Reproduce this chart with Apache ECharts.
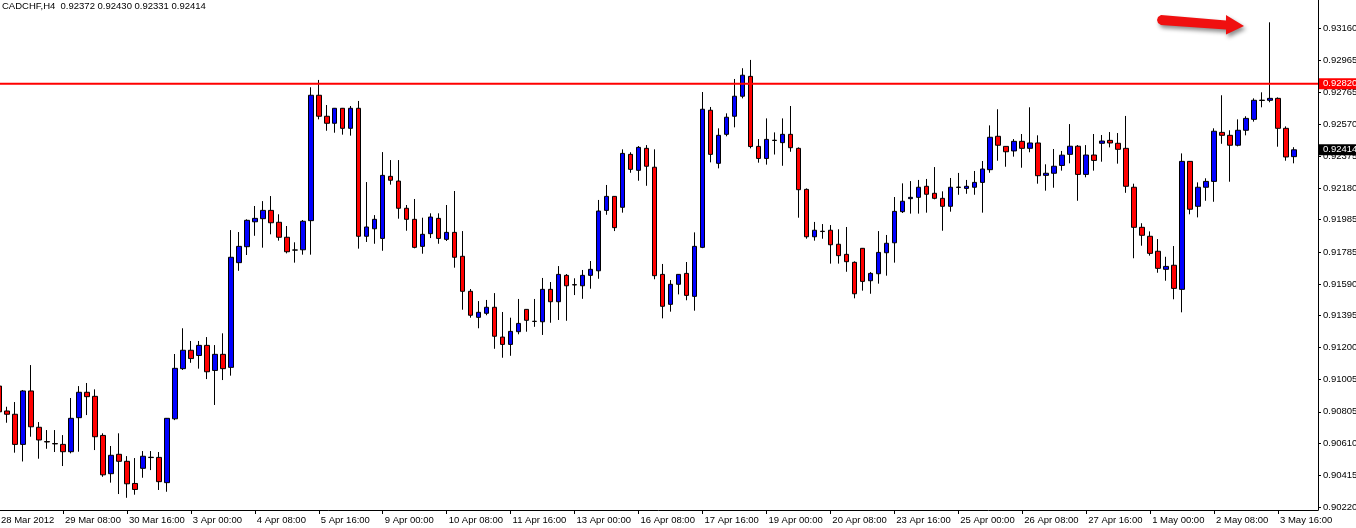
<!DOCTYPE html>
<html>
<head>
<meta charset="utf-8">
<script src="https://cdn.jsdelivr.net/npm/echarts@6/dist/echarts.min.js"></script>
<style>
html,body{margin:0;padding:0;background:#fff;}
#chart{width:1356px;height:528px;}
</style>
</head>
<body>
<div id="chart"></div>
<script>
// ---- data (CADCHF, H4) ----
const title = 'CADCHF,H4  0.92372 0.92430 0.92331 0.92414';
const days = ['28 Mar','29 Mar','30 Mar','2 Apr','3 Apr','4 Apr','5 Apr','6 Apr','9 Apr','10 Apr','11 Apr','12 Apr','13 Apr','16 Apr','17 Apr','18 Apr','19 Apr','20 Apr','23 Apr','24 Apr','25 Apr','26 Apr','27 Apr','30 Apr','1 May','2 May','3 May','4 May'];
const hours = ['00:00','04:00','08:00','12:00','16:00','20:00'];
const xTickLabels = ['28 Mar 2012','29 Mar 08:00','30 Mar 16:00','3 Apr 00:00','4 Apr 08:00','5 Apr 16:00','9 Apr 00:00','10 Apr 08:00','11 Apr 16:00','13 Apr 00:00','16 Apr 08:00','17 Apr 16:00','19 Apr 00:00','20 Apr 08:00','23 Apr 16:00','25 Apr 00:00','26 Apr 08:00','27 Apr 16:00','1 May 00:00','2 May 08:00','3 May 16:00'];
const yTickLabels = ['0.90220','0.90415','0.90610','0.90805','0.91005','0.91200','0.91395','0.91590','0.91785','0.91985','0.92180','0.92375','0.92570','0.92765','0.92965','0.93160'];
const resistanceLevel = 0.92820;
const lastPrice = 0.92414;

const opens = [0.90963,0.90810,0.90790,0.90605,0.90933,0.90710,0.90622,0.90610,0.90605,0.90560,
0.90769,0.90925,0.90900,0.90660,0.90425,0.90544,0.90501,0.90365,0.90458,0.90526,
0.90525,0.90370,0.90762,0.91070,0.91183,0.91151,0.91213,0.91059,0.91158,0.91078,
0.91721,0.91819,0.91972,0.91991,0.92042,0.91969,0.91877,0.91799,0.91800,0.91979,
0.92749,0.92620,0.92577,0.92669,0.92546,0.92669,0.91883,0.91929,0.91870,0.92251,
0.92222,0.92055,0.91987,0.91821,0.91899,0.91993,0.91864,0.91907,0.91760,0.91545,
0.91385,0.91410,0.91447,0.91264,0.91219,0.91297,0.91434,0.91361,0.91358,0.91557,
0.91481,0.91643,0.91586,0.91579,0.91643,0.91671,0.92042,0.92128,0.92061,0.92386,
0.92288,0.92423,0.92307,0.91649,0.91465,0.91588,0.91655,0.91514,0.91815,0.92657,
0.92331,0.92509,0.92620,0.92743,0.92865,0.92435,0.92361,0.92473,0.92458,0.92509,
0.92423,0.92171,0.91880,0.91914,0.91920,0.91834,0.91772,0.91723,0.91809,0.91610,
0.91653,0.91782,0.91843,0.92034,0.92114,0.92122,0.92190,0.92147,0.92116,0.92067,
0.92185,0.92177,0.92184,0.92214,0.92292,0.92497,0.92435,0.92407,0.92466,0.92423,
0.92456,0.92257,0.92270,0.92318,0.92386,0.92436,0.92263,0.92382,0.92454,0.92472,
0.92454,0.92423,0.92184,0.91938,0.91883,0.91791,0.91680,0.91705,0.91557,0.92343,
0.92067,0.92184,0.92220,0.92521,0.92503,0.92442,0.92534,0.92601,0.92719,0.92718,
0.92730,0.92546,0.92372];
const closes = [0.90805,0.90790,0.90605,0.90933,0.90713,0.90632,0.90620,0.90608,0.90560,0.90765,
0.90925,0.90898,0.90652,0.90418,0.90538,0.90501,0.90363,0.90328,0.90532,0.90524,
0.90376,0.90765,0.91072,0.91183,0.91132,0.91213,0.91051,0.91158,0.91070,0.91754,
0.91821,0.91981,0.91993,0.92042,0.91966,0.91877,0.91788,0.91798,0.91975,0.92749,
0.92620,0.92577,0.92669,0.92546,0.92669,0.91883,0.91940,0.91987,0.92257,0.92227,
0.92055,0.91987,0.91815,0.91895,0.92001,0.91870,0.91907,0.91754,0.91545,0.91398,
0.91416,0.91447,0.91269,0.91219,0.91299,0.91348,0.91367,0.91360,0.91557,0.91481,
0.91649,0.91579,0.91584,0.91643,0.91680,0.92038,0.92128,0.91936,0.92392,0.92294,
0.92429,0.92313,0.91641,0.91453,0.91588,0.91649,0.91520,0.91821,0.92663,0.92386,
0.92503,0.92614,0.92743,0.92872,0.92434,0.92361,0.92478,0.92471,0.92509,0.92427,
0.92169,0.91880,0.91920,0.91912,0.91831,0.91764,0.91727,0.91530,0.91606,0.91655,
0.91784,0.91840,0.92036,0.92098,0.92122,0.92184,0.92141,0.92116,0.92067,0.92184,
0.92183,0.92190,0.92214,0.92296,0.92491,0.92442,0.92402,0.92466,0.92423,0.92456,
0.92255,0.92270,0.92313,0.92381,0.92436,0.92263,0.92382,0.92349,0.92468,0.92456,
0.92417,0.92190,0.91938,0.91889,0.91778,0.91686,0.91698,0.91563,0.92343,0.92049,
0.92184,0.92220,0.92528,0.92503,0.92442,0.92534,0.92607,0.92718,0.92717,0.92730,
0.92546,0.92370,0.92414];
const lows = [0.90791,0.90738,0.90554,0.90500,0.90652,0.90517,0.90578,0.90558,0.90472,0.90550,
0.90560,0.90785,0.90570,0.90406,0.90370,0.90300,0.90277,0.90296,0.90400,0.90447,
0.90325,0.90314,0.90754,0.91062,0.91106,0.91070,0.91006,0.90847,0.91000,0.91027,
0.91671,0.91768,0.91886,0.91813,0.91895,0.91856,0.91778,0.91721,0.91770,0.91770,
0.92601,0.92531,0.92519,0.92507,0.92501,0.91807,0.91848,0.91837,0.91794,0.92200,
0.91991,0.91917,0.91809,0.91776,0.91872,0.91837,0.91854,0.91690,0.91432,0.91383,
0.91318,0.91398,0.91192,0.91137,0.91149,0.91281,0.91297,0.91327,0.91277,0.91352,
0.91369,0.91364,0.91522,0.91499,0.91561,0.91622,0.92015,0.91915,0.92028,0.92273,
0.92224,0.92193,0.91619,0.91379,0.91420,0.91526,0.91490,0.91426,0.91810,0.92337,
0.92300,0.92497,0.92552,0.92730,0.92423,0.92335,0.92323,0.92385,0.92316,0.92402,
0.91997,0.91868,0.91856,0.91868,0.91715,0.91715,0.91665,0.91502,0.91549,0.91530,
0.91592,0.91641,0.91721,0.92026,0.92022,0.92022,0.92028,0.92110,0.91917,0.92034,
0.92138,0.92144,0.92138,0.92028,0.92273,0.92347,0.92310,0.92372,0.92304,0.92399,
0.92206,0.92163,0.92181,0.92286,0.92331,0.92101,0.92245,0.92286,0.92341,0.92429,
0.92329,0.92150,0.91748,0.91825,0.91764,0.91659,0.91610,0.91496,0.91416,0.92018,
0.91999,0.92101,0.92095,0.92451,0.92218,0.92435,0.92503,0.92587,0.92675,0.92706,
0.92433,0.92347,0.92331];
const highs = [0.90982,0.90836,0.90865,0.90939,0.91092,0.90742,0.90693,0.90693,0.90662,0.90890,
0.90963,0.90982,0.90943,0.90673,0.90595,0.90673,0.90533,0.90521,0.90564,0.90564,
0.90558,0.90767,0.91160,0.91318,0.91240,0.91240,0.91264,0.91215,0.91287,0.91921,
0.91909,0.91987,0.92069,0.92099,0.92130,0.92018,0.91946,0.91846,0.91983,0.92798,
0.92843,0.92689,0.92671,0.92671,0.92683,0.92714,0.92216,0.92013,0.92400,0.92351,
0.92351,0.92075,0.92112,0.91997,0.92024,0.92024,0.92075,0.92161,0.91915,0.91559,
0.91485,0.91492,0.91534,0.91418,0.91383,0.91498,0.91436,0.91498,0.91627,0.91602,
0.91700,0.91651,0.91625,0.91676,0.91731,0.92106,0.92198,0.92130,0.92417,0.92399,
0.92437,0.92443,0.92417,0.91713,0.91614,0.91651,0.91725,0.91907,0.92769,0.92677,
0.92546,0.92638,0.92849,0.92915,0.92966,0.92480,0.92607,0.92521,0.92607,0.92683,
0.92429,0.92177,0.91971,0.91958,0.91952,0.91926,0.91940,0.91729,0.91811,0.91663,
0.91915,0.91891,0.92124,0.92208,0.92222,0.92229,0.92235,0.92308,0.92159,0.92241,
0.92272,0.92229,0.92284,0.92345,0.92564,0.92663,0.92437,0.92480,0.92511,0.92675,
0.92503,0.92325,0.92419,0.92407,0.92572,0.92443,0.92443,0.92511,0.92505,0.92523,
0.92517,0.92622,0.92206,0.91963,0.91913,0.91866,0.91757,0.91823,0.92392,0.92345,
0.92214,0.92239,0.92546,0.92749,0.92534,0.92601,0.92620,0.92730,0.92767,0.93197,
0.92736,0.92558,0.92430];

// ---- build categories and series data ----
const categories = [];
for (const d of days) {
  for (const h of hours) {
    if (categories.length < opens.length) categories.push(d + ' ' + h);
  }
}
const emptySlots = [' ', '  ', '   '];
emptySlots.forEach(s => categories.push(s));
const candles = opens.map((o, i) => [o, closes[i], lows[i], highs[i]]);
const resistanceData = categories.map(() => resistanceLevel);
const lastPriceData = categories.map(() => lastPrice);

const FONT = '"Liberation Sans", Arial, sans-serif';
const chart = echarts.init(document.getElementById('chart'), null, {renderer: 'canvas'});
const labelEvery = 8;
const showTick = (idx) => idx % labelEvery === 0 && idx / labelEvery < xTickLabels.length;

const boxLabel = (val, bg) => ({
  show: true, distance: 1,
  formatter: () => val.toFixed(5),
  backgroundColor: bg, color: '#ffffff',
  padding: [1, 8, 0, 4], fontFamily: FONT, fontSize: 9.5, lineHeight: 10
});

chart.setOption({
  animation: false,
  backgroundColor: '#ffffff',
  title: {
    text: title,
    left: 2, top: 1, padding: 0,
    textStyle: {fontFamily: FONT, fontSize: 9.5, fontWeight: 'normal', color: '#000'}
  },
  grid: {left: -1, right: 38, top: 0, bottom: 18, containLabel: false, outerBoundsMode: 'none'},
  xAxis: {
    type: 'category',
    data: categories,
    boundaryGap: false,
    axisLine: {show: true, lineStyle: {color: '#000', width: 1}},
    axisTick: {show: true, length: 4, lineStyle: {color: '#000'}, interval: showTick},
    axisLabel: {
      show: true,
      interval: showTick,
      formatter: (v, idx) => xTickLabels[idx / labelEvery] || '',
      align: 'left', margin: 5, padding: [0, 0, 0, 2],
      fontFamily: FONT, fontSize: 9.5, color: '#000',
      hideOverlap: false
    },
    splitLine: {show: false}
  },
  yAxis: {
    type: 'value',
    position: 'right',
    min: 0.90202, max: 0.93334,
    axisLine: {show: true, lineStyle: {color: '#000', width: 1}},
    axisTick: {show: true, length: 3, lineStyle: {color: '#000'},
      customValues: yTickLabels.map(Number)},
    axisLabel: {
      show: true, margin: 5,
      customValues: yTickLabels.map(Number),
      formatter: (v) => Number(v).toFixed(5),
      fontFamily: FONT, fontSize: 9.5, color: '#000'
    },
    splitLine: {show: false}
  },
  series: [{
    type: 'candlestick',
    data: candles,
    barWidth: 5,
    z: 2,
    itemStyle: {
      color: '#0000ff', color0: '#ff0000',
      borderColor: '#000000', borderColor0: '#000000', borderColorDoji: '#000000',
      borderWidth: 1
    }
  }, {
    type: 'line',
    data: resistanceData,
    z: 3,
    symbol: 'none',
    silent: true,
    clip: false,
    lineStyle: {color: '#ff0000', width: 2},
    endLabel: boxLabel(resistanceLevel, '#ff0000')
  }, {
    type: 'line',
    data: lastPriceData,
    z: 3,
    symbol: 'none',
    silent: true,
    clip: false,
    lineStyle: {color: 'rgba(0,0,0,0)', width: 0},
    endLabel: boxLabel(lastPrice, '#000000')
  }],
  graphic: [{
    type: 'polygon',
    z: 100,
    shape: {points: [[1158,17],[1161,15],[1226,20.5],[1226,15],[1244,26],[1226,34.5],[1226,29.5],[1161,25],[1158,23],[1157,20]]},
    style: {
      fill: '#f01010',
      shadowBlur: 4, shadowColor: 'rgba(0,0,0,0.45)', shadowOffsetX: 2, shadowOffsetY: 3
    }
  }]
});
</script>
</body>
</html>
